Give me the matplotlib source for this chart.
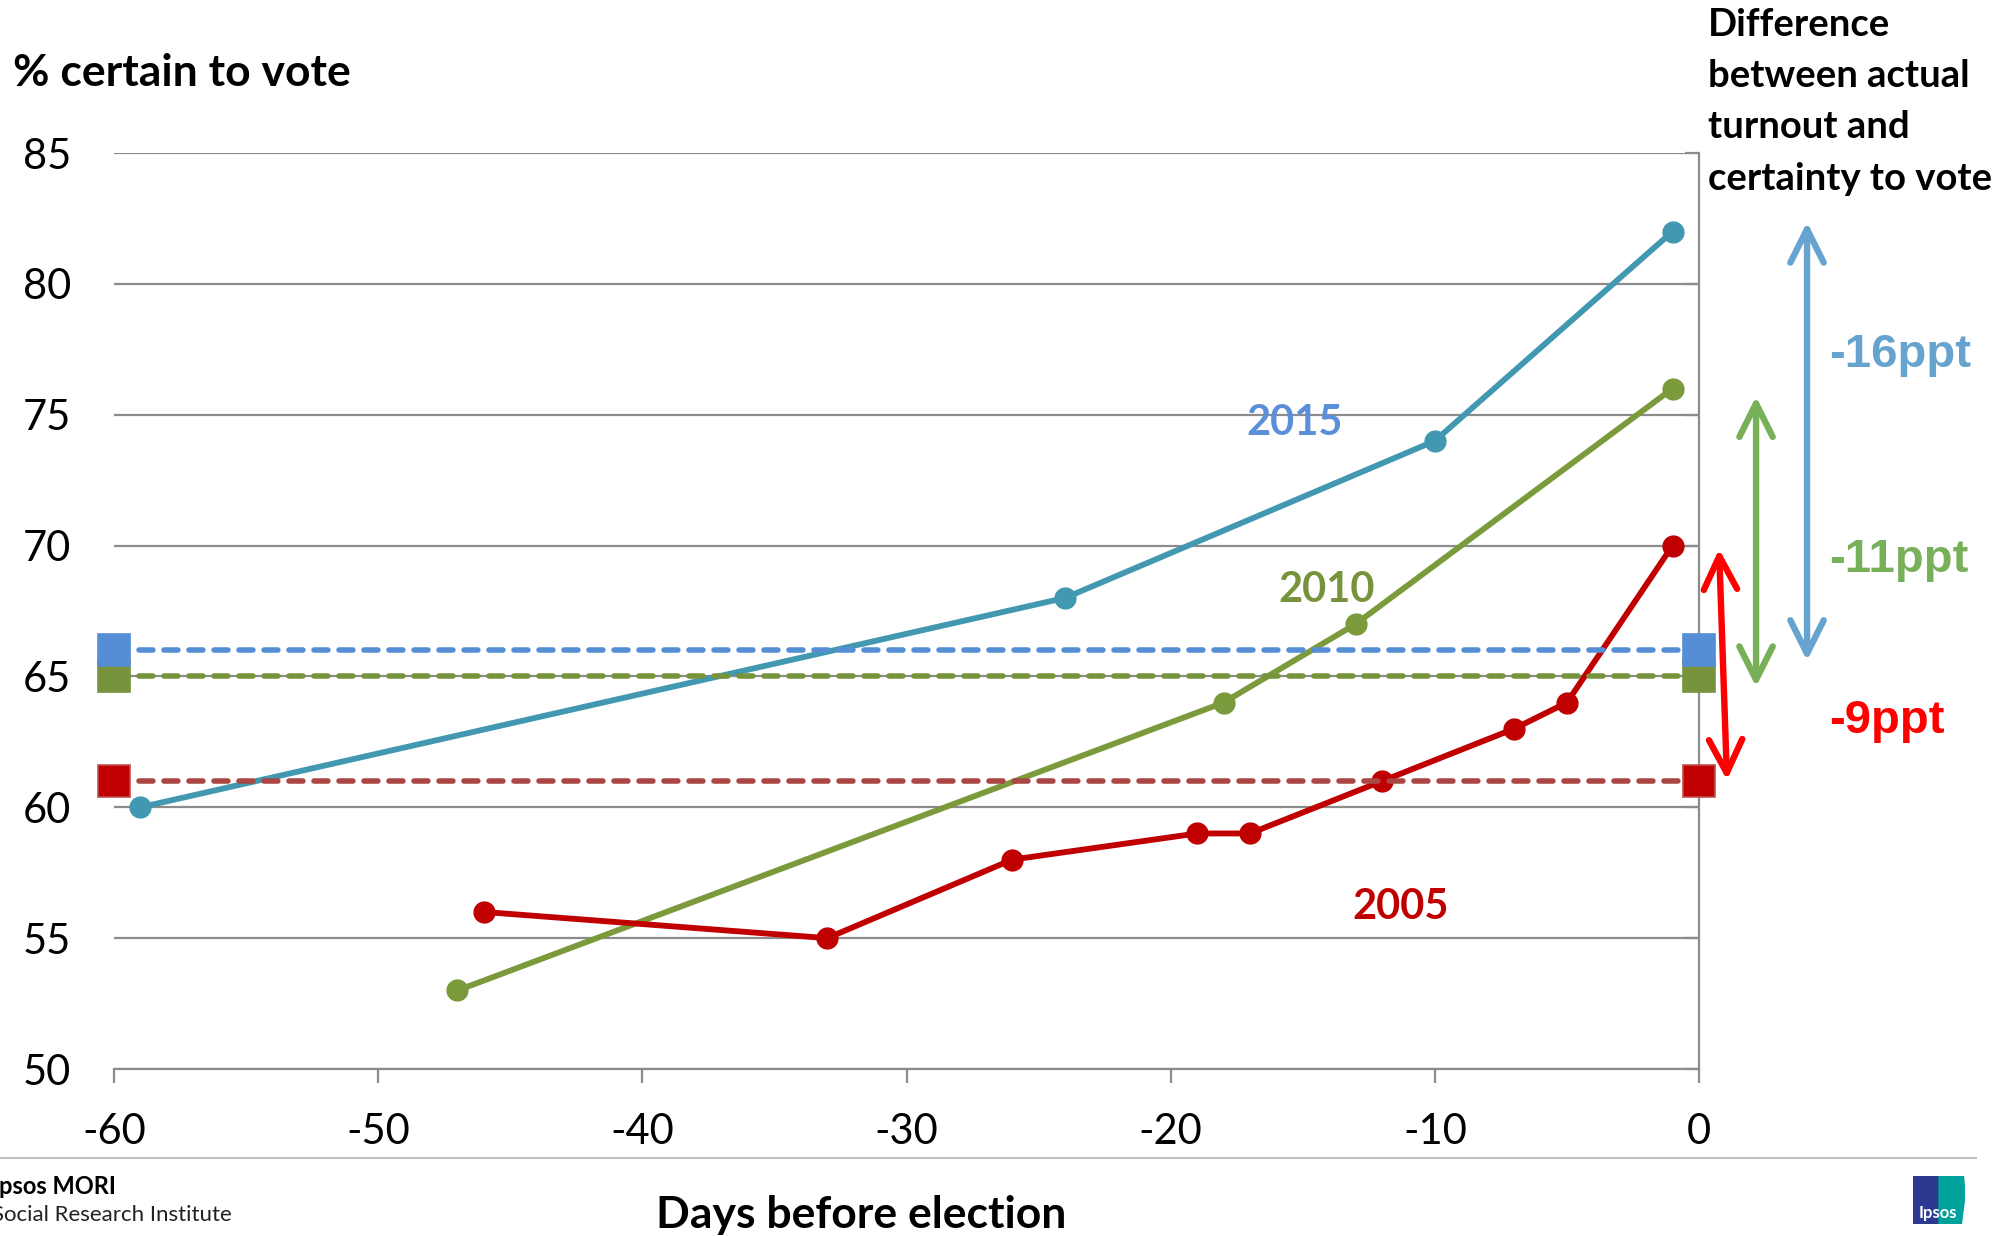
import matplotlib
matplotlib.use("Agg")
import matplotlib.pyplot as plt
from matplotlib.patches import Rectangle, Polygon

plt.rcParams['font.family'] = ['Lato', 'DejaVu Sans']

# ---------------- data ----------------
days_2015 = [-59, -24, -10, -1]
vals_2015 = [60, 68, 74, 82]
days_2010 = [-47, -18, -13, -1]
vals_2010 = [53, 64, 67, 76]
days_2005 = [-46, -33, -26, -19, -17, -12, -7, -5, -1]
vals_2005 = [56, 55, 58, 59, 59, 61, 63, 64, 70]

turnout_years = ['2015', '2010', '2005']
turnout_vals = [66, 65, 61]
diff_labels = ['-16ppt', '-11ppt', '-9ppt']

x_ticks = [-60, -50, -40, -30, -20, -10, 0]
y_ticks = [50, 55, 60, 65, 70, 75, 80, 85]

# ---------------- styles ----------------
c2015, c2010, c2005 = '#4198B0', '#7A9A3B', '#C00000'
t2015, t2010, t2005 = '#558ED5', '#77933C', '#AA4643'
sq_colors = ['#558ED5', '#77933C', '#C00000']
lab_colors = ['#5B8FD9', '#77933C', '#C00000']
arrow_colors = ['#66A3CF', '#78B05A', '#FF0000']
grid_c = '#8C8C8C'

W, H = 2005, 1236
fig = plt.figure(figsize=(W / 100, H / 100), dpi=100)


def fx(px):
    return px / W


def fy(py):
    return 1 - py / H


ax = fig.add_axes([fx(114), fy(1069), fx(1699) - fx(114), fy(153) - fy(1069)])
ax.set_xlim(-60, 0)
ax.set_ylim(50, 85)
ax.set_xticks(x_ticks)
ax.set_yticks(y_ticks)
ax.set_xticklabels([str(v) for v in x_ticks])
ax.set_yticklabels([str(v) for v in y_ticks])

for s in ['left', 'top']:
    ax.spines[s].set_visible(False)
for s in ['bottom', 'right']:
    ax.spines[s].set_color(grid_c)
    ax.spines[s].set_linewidth(1.6)

ax.tick_params(axis='x', direction='out', length=10, width=1.6, color=grid_c,
               labelsize=30, pad=22)
ax.tick_params(axis='y', left=False, right=True, labelleft=True, labelright=False,
               direction='in', length=10, width=1.6, color=grid_c, labelsize=30, pad=31)
ax.yaxis.grid(True, color=grid_c, linewidth=1.6)
ax.set_axisbelow(True)

# series lines
line_kw = dict(linewidth=4.2, marker='o', markersize=15, solid_capstyle='round',
               clip_on=False, zorder=3)
ax.plot(days_2015, vals_2015, color=c2015, **line_kw)
ax.plot(days_2010, vals_2010, color=c2010, **line_kw)
ax.plot(days_2005, vals_2005, color=c2005, **line_kw)

# turnout dashed lines with squares at each end
dash_cols = [t2015, t2010, t2005]
order = [2, 1, 0]
for i in order:
    ax.plot([-60, 0], [turnout_vals[i]] * 2, color=dash_cols[i], linewidth=4.0,
            linestyle=(0, (2.5, 2.0)), dash_capstyle='round', zorder=4, clip_on=False)
for i in order:
    ax.plot([-60, 0], [turnout_vals[i]] * 2, linestyle='none', marker='s',
            markersize=23, markerfacecolor=sq_colors[i],
            markeredgecolor=('#C0504D' if i == 2 else sq_colors[i]),
            markeredgewidth=1.2, zorder=5, clip_on=False)

# series labels
ax.text(-15.3, 74.7, turnout_years[0], color=lab_colors[0], fontsize=30,
        fontweight='bold', ha='center', va='center')
ax.text(-14.1, 68.3, turnout_years[1], color=lab_colors[1], fontsize=30,
        fontweight='bold', ha='center', va='center')
ax.text(-11.3, 56.2, turnout_years[2], color=lab_colors[2], fontsize=30,
        fontweight='bold', ha='center', va='center')

# difference arrows (right margin)
arrows = [((4.09, 82.36), (4.09, 65.6)),
          ((2.16, 75.7), (2.16, 64.6)),
          ((0.76, 69.87), (1.06, 61.04))]
for (top, bot), col in zip(arrows, arrow_colors):
    ax.annotate('', xy=bot, xytext=top, xycoords='data', textcoords='data',
                annotation_clip=False,
                arrowprops=dict(arrowstyle='<->,head_length=1.2,head_width=0.6',
                                mutation_scale=20, color=col, lw=4.6,
                                capstyle='round', joinstyle='round',
                                shrinkA=0, shrinkB=0))

diff_y = [77.3, 69.45, 63.3]
for lab, yy, col in zip(diff_labels, diff_y, arrow_colors):
    ax.text(4.92, yy, lab, color=col, fontsize=34, fontweight='bold',
            family=['Liberation Sans', 'DejaVu Sans'], ha='left', va='center',
            clip_on=False)

# titles
fig.text(fx(13), fy(73), '% certain to vote', fontsize=32, fontweight='bold',
         ha='left', va='center')
header = ['Difference', 'between actual', 'turnout and', 'certainty to vote']
for line, py in zip(header, [36, 87, 138, 190]):
    fig.text(fx(1708), fy(py), line, fontsize=27.5, fontweight='bold',
             ha='left', va='baseline')
fig.text(fx(861), fy(1215), 'Days before election', fontsize=32,
         fontweight='bold', ha='center', va='center')

# footer
fig.add_artist(plt.Line2D([0, fx(1976)], [fy(1158)] * 2, color='#BFBFBF', lw=1.5))
fig.text(fx(-8), fy(1187), 'Ipsos MORI', fontsize=17, fontweight='bold',
         ha='left', va='center')
fig.text(fx(-8), fy(1215), 'Social Research Institute', fontsize=16,
         ha='left', va='center', color='#222222')

# Ipsos logo
lax = fig.add_axes([fx(1913), fy(1224), fx(52), 48 / H])
lax.set_xlim(0, 1)
lax.set_ylim(0, 1)
lax.axis('off')
lax.add_patch(Rectangle((0, 0), 0.5, 1, color='#2B3990'))
lax.add_patch(Polygon([[0.5, 0], [0.5, 1], [0.97, 1], [1.0, 0.6], [0.93, 0]],
                      closed=True, color='#00A39B'))
lax.text(0.47, 0.22, 'Ipsos', color='white', fontsize=12, fontweight='bold',
         ha='center', va='center')

fig.savefig('out.png', dpi=100)
